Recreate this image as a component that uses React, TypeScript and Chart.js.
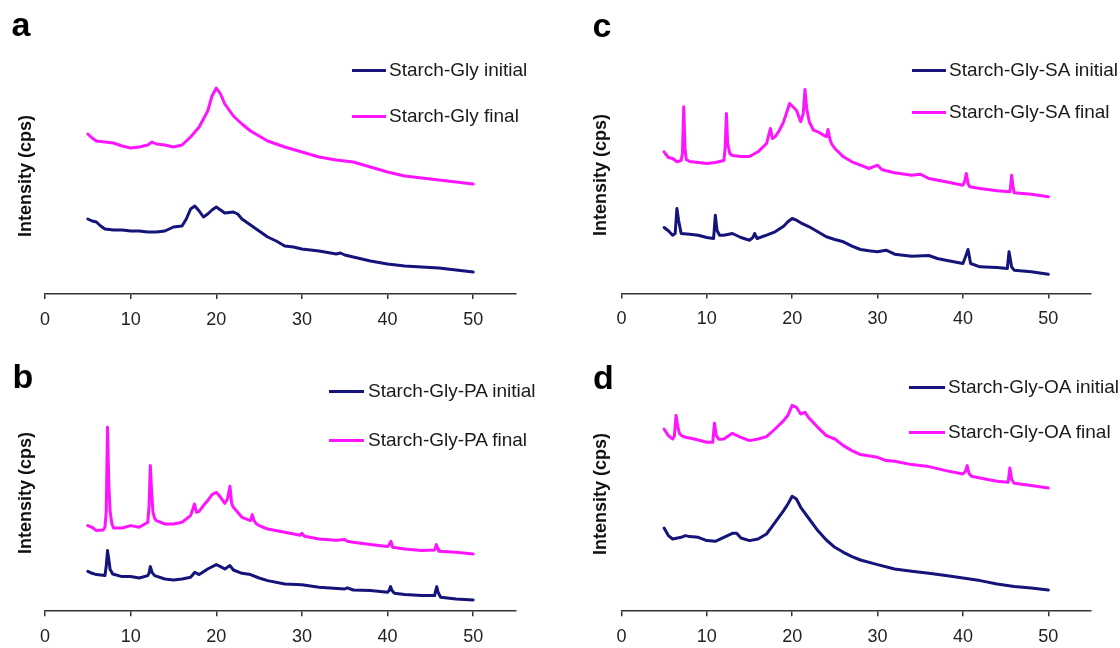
import React, { useEffect, useRef } from 'react';
import { Chart, registerables } from 'chart.js';

Chart.register(...registerables);

const NAVY = '#14147a';
const MAGENTA = '#ff14ff';
const FONT = '"Liberation Sans", Arial, Helvetica, sans-serif';

// x-axis ticks (2θ, degrees)
const xTicks = [0, 10, 20, 30, 40, 50];
const X_MIN = 0;
const X_MAX = 55;
const Y_MAX = 260;

// ---- Panel a ----
const aInitX = [5, 5.5, 6, 6.5, 7, 8, 9, 10, 11, 12, 13, 14, 15, 16, 16.5, 17, 17.5, 18, 18.5, 19, 19.5, 20, 20.5, 21, 22, 22.5, 23, 24, 25, 26, 27, 28, 29, 30, 32, 34, 34.5, 35, 36, 38, 40, 42, 44, 46, 48, 50];
const aInitY = [75, 73, 72, 68, 65, 64, 64, 63, 63, 62, 62, 63, 67, 68, 75, 85, 88, 83, 77, 80, 84, 87, 84, 81, 82, 80, 75, 69, 63, 57, 53, 48, 47, 45, 43, 40, 41, 39, 37, 33, 30, 28, 27, 26, 24, 22];
const aFinalX = [5, 5.5, 6, 7, 8, 9, 10, 11, 12, 12.5, 13, 14, 15, 16, 17, 18, 19, 19.5, 20, 20.5, 21, 22, 23, 24, 25, 26, 28, 30, 32, 34, 35, 36, 38, 40, 42, 44, 46, 48, 50];
const aFinalY = [160, 156, 153, 152, 151, 148, 146, 147, 149, 152, 150, 149, 147, 149, 157, 167, 183, 198, 206, 200, 190, 178, 170, 163, 158, 153, 147, 142, 137, 134, 133, 132, 127, 122, 118, 116, 114, 112, 110];

// ---- Panel b ----
const bInitX = [5, 5.5, 6, 7, 7.15, 7.3, 7.45, 7.6, 7.9, 9, 10, 11, 12, 12.15, 12.3, 12.5, 12.8, 14, 15, 16, 17, 17.3, 17.5, 18, 19, 20, 20.5, 21, 21.6, 22, 23, 24, 25, 26, 28, 30, 32, 35, 35.3, 36, 38, 40, 40.2, 40.35, 40.5, 40.8, 42, 44, 45.5, 45.6, 45.75, 45.9, 46.2, 48, 50];
const bInitY = [40, 38, 36.7, 35.7, 45, 60.7, 52, 42, 37.3, 34.7, 34.7, 33.3, 35.7, 38, 44.7, 39, 35.7, 32.3, 31.3, 32.3, 34, 37, 39, 36.7, 42.3, 46.7, 44.7, 42.3, 45.7, 41.3, 38, 36.7, 33.3, 30.7, 27.3, 26.5, 24, 22.3, 23.5, 21.3, 20.7, 19, 21, 24.7, 21, 18, 16.7, 15.7, 15.7, 20, 24.7, 19, 14, 12.3, 11.3];
const bFinalX = [5, 5.5, 6, 6.8, 7.0, 7.15, 7.3, 7.45, 7.6, 7.8, 8, 9, 10, 11, 12, 12.15, 12.3, 12.45, 12.6, 12.8, 13, 14, 15, 16, 17, 17.3, 17.45, 17.7, 18, 18.5, 19, 19.5, 20, 20.5, 21, 21.3, 21.6, 21.8, 22, 22.5, 23, 24, 24.2, 24.4, 24.7, 25, 26, 28, 29.8, 30, 30.3, 32, 34, 35, 35.3, 36, 38, 40, 40.2, 40.4, 40.6, 42, 44, 45.5, 45.7, 45.9, 46, 48, 50];
const bFinalY = [85.7, 84, 80.7, 81.3, 84, 100, 184, 128, 100, 88, 83.3, 83.3, 85.7, 84, 89, 105, 145.7, 120, 100, 93, 90.7, 87.3, 87.3, 89, 95.7, 103, 107.3, 99, 100, 105.7, 110.7, 116.7, 119, 114, 108, 112, 125, 108, 104, 99, 94, 90.7, 96.7, 91, 87.3, 85.7, 82.3, 79, 76, 78, 75, 72.3, 71, 71.7, 70, 69, 66.7, 64.7, 67, 70, 64, 62.3, 60.7, 61.3, 66.7, 62, 60, 59, 57.3];

// ---- Panel c ----
const cInitX = [5, 5.5, 6, 6.3, 6.5, 6.7, 7.0, 8, 9, 10, 10.8, 11.0, 11.2, 11.5, 12, 13, 14, 15, 15.4, 15.6, 15.9, 17, 18, 19, 19.5, 20, 20.5, 21, 22, 23, 24, 25, 26, 27, 28, 29, 30, 31, 32, 34, 36, 37, 38, 40, 40.3, 40.6, 40.9, 42, 44, 45.2, 45.4, 45.7, 46, 48, 50];
const cInitY = [66, 62.7, 58.3, 60, 85, 73, 60, 59.3, 58.3, 56, 55, 78.3, 63, 58.3, 58.3, 60, 56, 53.3, 56, 60, 55, 58.3, 61.7, 67.3, 71.7, 75, 73.3, 70.7, 66.7, 61.7, 56.7, 54, 51.7, 47.3, 44, 42.7, 41.7, 43.3, 39.3, 37.3, 38, 35, 33.3, 30, 36.7, 44, 30, 26.7, 26, 25, 41.7, 26.7, 23.3, 21.7, 19.3];
const cFinalX = [5, 5.5, 6, 6.5, 7, 7.15, 7.3, 7.45, 7.6, 8, 9, 10, 11, 12, 12.15, 12.3, 12.45, 12.7, 13, 14, 15, 16, 17, 17.3, 17.45, 17.7, 18, 18.5, 19, 19.7, 20.5, 21, 21.3, 21.5, 21.7, 22, 22.5, 23, 24, 24.2, 24.4, 24.6, 25, 26, 27, 28, 29, 30, 30.5, 31, 32, 34, 35, 36, 38, 40, 40.2, 40.4, 40.6, 40.8, 42, 44, 45.5, 45.6, 45.7, 45.85, 46, 48, 50];
const cFinalY = [141.7, 136, 135, 131.7, 133, 140, 186.7, 145, 134, 132, 131, 130, 131, 133, 145, 180, 150, 140, 138, 137, 137, 141.7, 150, 160, 165, 155, 156.7, 163, 171.7, 190, 183.3, 171.7, 180, 204, 185, 171.7, 163.3, 161.7, 156.7, 164, 155, 150, 145, 136.7, 131.7, 128.3, 125, 128.3, 124, 122.7, 120.7, 118.3, 119.3, 115, 111.7, 108.3, 112, 120, 110, 106.7, 105, 102.7, 101.7, 108, 118.3, 108, 100.7, 99.3, 96.7];

// ---- Panel d ----
const dInitX = [5, 5.5, 6, 7, 7.5, 8, 9, 10, 11, 12, 13, 13.5, 14, 15, 16, 17, 18, 19, 19.5, 20, 20.5, 21, 22, 23, 24, 25, 26, 27, 28, 30, 32, 34, 36, 38, 40, 42, 44, 46, 48, 50];
const dInitY = [83.3, 75.7, 72.3, 74, 75.7, 74.7, 74, 70.7, 70, 74, 78, 78, 73.3, 70.7, 72.3, 77.3, 89, 100.7, 107.3, 115, 112.3, 104, 92.3, 80.7, 71.3, 64, 59, 54.7, 51.3, 46.7, 42.3, 40, 38, 35.7, 33.3, 30.7, 27.3, 24.7, 23.3, 21.3];
const dFinalX = [5, 5.5, 6, 6.2, 6.4, 6.6, 6.8, 7, 7.5, 8, 9, 10, 10.7, 10.9, 11.1, 11.4, 12, 13, 13.5, 14, 15, 16, 17, 18, 19, 19.5, 20, 20.5, 21, 21.5, 22, 23, 24, 25, 26, 27, 28, 30, 31, 32, 34, 36, 38, 40, 40.3, 40.5, 40.7, 41, 42, 44, 45.3, 45.5, 45.7, 46, 48, 50];
const dFinalY = [182.3, 175.7, 172.3, 175, 195.7, 185, 178, 176, 174, 173.3, 171.3, 169, 169, 188, 176, 172, 172.3, 178, 176, 174, 170.7, 172.3, 174.7, 182.3, 190.7, 196, 206, 204, 197.3, 199, 193, 184, 175.7, 172.3, 165.7, 160.7, 156.7, 154, 150.7, 150, 146.7, 144.7, 140.7, 137.3, 140, 145.7, 138, 135, 133.3, 130, 129, 143.3, 132, 128, 125.7, 123.3];

type PanelCfg = {
  letter: string;
  letterLeft: number;
  letterTop: number;
  left: number;
  top: number;
  width: number;
  height: number;
  axisY: number;
  x0: number;
  x55: number;
  initLabel: string;
  finalLabel: string;
  initX: number[];
  initY: number[];
  finalX: number[];
  finalY: number[];
  legLineL: number;
  legLineR: number;
  legTextL: number;
  legY1: number;
  legY2: number;
  titleX: number;
  titleY: number;
};

const AXIS_H = 36;

function PanelChart({ p }: { p: PanelCfg }) {
  const ref = useRef<HTMLCanvasElement>(null);
  useEffect(() => {
    const axisLocal = p.axisY - p.top;
    const chart = new Chart(ref.current as HTMLCanvasElement, {
      type: 'line',
      data: {
        datasets: [
          {
            label: p.initLabel,
            data: p.initX.map((x, i) => ({ x, y: p.initY[i] })),
            borderColor: NAVY,
            backgroundColor: NAVY,
            borderWidth: 3,
            borderJoinStyle: 'round',
            borderCapStyle: 'round',
            pointRadius: 0,
            tension: 0,
          },
          {
            label: p.finalLabel,
            data: p.finalX.map((x, i) => ({ x, y: p.finalY[i] })),
            borderColor: MAGENTA,
            backgroundColor: MAGENTA,
            borderWidth: 3,
            borderJoinStyle: 'round',
            borderCapStyle: 'round',
            pointRadius: 0,
            tension: 0,
          },
        ],
      },
      options: {
        animation: false,
        responsive: false,
        maintainAspectRatio: false,
        layout: {
          padding: {
            left: p.x0 - p.left,
            right: p.left + p.width - p.x55,
            top: axisLocal - Y_MAX,
            bottom: p.height - axisLocal - AXIS_H,
          },
        },
        plugins: { legend: { display: false }, tooltip: { enabled: false }, title: { display: false } },
        scales: {
          x: {
            type: 'linear',
            min: X_MIN,
            max: X_MAX,
            afterBuildTicks: (s: any) => {
              s.ticks = xTicks.map((v) => ({ value: v }));
            },
            afterFit: (s: any) => {
              s.height = AXIS_H;
            },
            grid: {
              drawOnChartArea: false,
              drawTicks: true,
              tickLength: 5,
              color: '#333',
              lineWidth: 1.5,
            },
            border: { display: true, color: '#333', width: 1.6 },
            ticks: {
              padding: 10,
              maxRotation: 0,
              autoSkip: false,
              color: '#222',
              font: { family: FONT, size: 18 },
            },
          },
          y: { display: false, min: 0, max: Y_MAX },
        },
      },
    } as any);
    return () => chart.destroy();
  }, []);
  return (
    <canvas
      ref={ref}
      width={p.width}
      height={p.height}
      style={{ position: 'absolute', left: p.left, top: p.top, width: p.width, height: p.height }}
    />
  );
}

function Overlay({ p }: { p: PanelCfg }) {
  const legRow = (y: number, color: string, text: string) => (
    <div
      style={{
        position: 'absolute',
        left: p.legLineL,
        top: y - 10,
        height: 20,
        display: 'flex',
        alignItems: 'center',
        whiteSpace: 'nowrap',
      }}
    >
      <div style={{ width: p.legLineR - p.legLineL, height: 3, background: color }} />
      <div
        style={{
          marginLeft: p.legTextL - p.legLineR,
          font: `19px ${FONT}`,
          lineHeight: '20px',
          color: '#1a1a1a',
        }}
      >
        {text}
      </div>
    </div>
  );
  return (
    <>
      <div
        style={{
          position: 'absolute',
          left: p.letterLeft,
          top: p.letterTop,
          font: `bold 34px ${FONT}`,
          lineHeight: '34px',
          color: '#000',
        }}
      >
        {p.letter}
      </div>
      <div
        style={{
          position: 'absolute',
          left: p.titleX,
          top: p.titleY,
          transform: 'translate(-50%, -50%) rotate(-90deg)',
          font: `bold 18px ${FONT}`,
          lineHeight: '20px',
          whiteSpace: 'nowrap',
          color: '#111',
        }}
      >
        Intensity (cps)
      </div>
      {legRow(p.legY1, NAVY, p.initLabel)}
      {legRow(p.legY2, MAGENTA, p.finalLabel)}
    </>
  );
}

const panels: PanelCfg[] = [
  {
    letter: 'a', letterLeft: 11.5, letterTop: 7,
    left: 0, top: 0, width: 560, height: 340, axisY: 294, x0: 45, x55: 516,
    initLabel: 'Starch-Gly initial', finalLabel: 'Starch-Gly final',
    initX: aInitX, initY: aInitY, finalX: aFinalX, finalY: aFinalY,
    legLineL: 352, legLineR: 386, legTextL: 389, legY1: 70, legY2: 116,
    titleX: 25, titleY: 176,
  },
  {
    letter: 'c', letterLeft: 592.5, letterTop: 8,
    left: 560, top: 0, width: 560, height: 340, axisY: 293.5, x0: 621.4, x55: 1091,
    initLabel: 'Starch-Gly-SA initial', finalLabel: 'Starch-Gly-SA final',
    initX: cInitX, initY: cInitY, finalX: cFinalX, finalY: cFinalY,
    legLineL: 912, legLineR: 946, legTextL: 949, legY1: 70, legY2: 112,
    titleX: 599.5, titleY: 175,
  },
  {
    letter: 'b', letterLeft: 12.5, letterTop: 359,
    left: 0, top: 320, width: 560, height: 328, axisY: 611.3, x0: 45, x55: 516,
    initLabel: 'Starch-Gly-PA initial', finalLabel: 'Starch-Gly-PA final',
    initX: bInitX, initY: bInitY, finalX: bFinalX, finalY: bFinalY,
    legLineL: 329, legLineR: 364, legTextL: 368, legY1: 391, legY2: 440,
    titleX: 25, titleY: 493,
  },
  {
    letter: 'd', letterLeft: 593, letterTop: 360,
    left: 560, top: 320, width: 560, height: 328, axisY: 611.3, x0: 621.4, x55: 1091,
    initLabel: 'Starch-Gly-OA initial', finalLabel: 'Starch-Gly-OA final',
    initX: dInitX, initY: dInitY, finalX: dFinalX, finalY: dFinalY,
    legLineL: 909, legLineR: 945, legTextL: 948, legY1: 387, legY2: 432,
    titleX: 599.5, titleY: 494,
  },
];

export default function App() {
  return (
    <div
      style={{
        position: 'absolute',
        left: 0,
        top: 0,
        width: 1120,
        height: 648,
        background: '#fff',
        overflow: 'hidden',
      }}
    >
      {panels.map((p) => (
        <PanelChart key={'c' + p.letter} p={p} />
      ))}
      {panels.map((p) => (
        <Overlay key={'o' + p.letter} p={p} />
      ))}
    </div>
  );
}
